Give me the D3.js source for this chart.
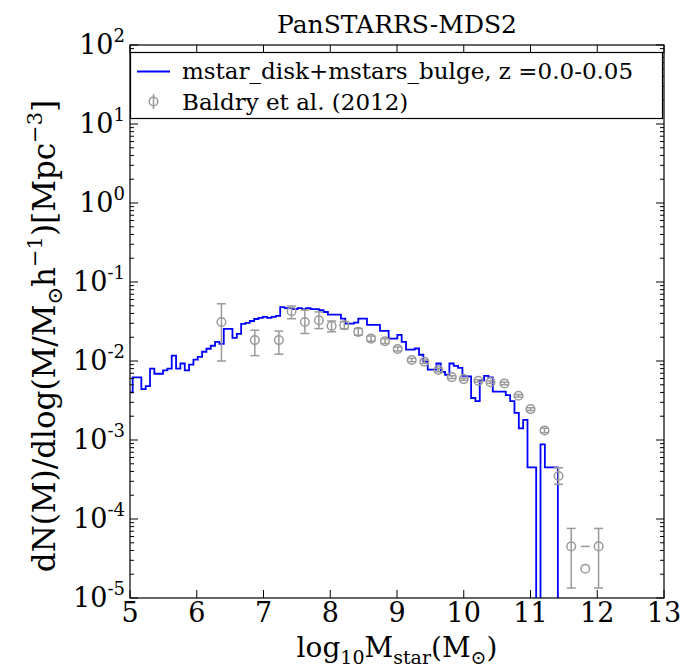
<!DOCTYPE html>
<html>
<head>
<meta charset="utf-8">
<script src="https://cdn.jsdelivr.net/npm/d3@7"></script>
<style>
  body { margin: 0; background: #ffffff; }
  svg text { font-family: "DejaVu Serif", serif; fill: #000; }
</style>
</head>
<body>
<svg id="chart" width="681" height="669"></svg>
<script>
// Histogram of the model stellar mass function: 100 bins of 0.065 dex starting at 4.91
const binStart = 4.91;
const binWidth = 0.065;
const modelPhi = [
  0.0040, 0.0040, 0.0062, 0.0062, 0.0044, 0.0048, 0.0080, 0.0069, 0.0069, 0.0076,
  0.0080, 0.0117, 0.0080, 0.0093, 0.0076, 0.0090, 0.0104, 0.0113, 0.0131, 0.0143,
  0.0156, 0.0175, 0.0165, 0.0255, 0.0255, 0.0196, 0.0220, 0.0295, 0.0303, 0.0321,
  0.0340, 0.0351, 0.0361, 0.0351, 0.0361, 0.0372, 0.0482, 0.0468, 0.0468, 0.0454,
  0.0468, 0.0454, 0.0468, 0.0454, 0.0454, 0.0439, 0.0417, 0.0386, 0.0386, 0.0386,
  0.0344, 0.0297, 0.0297, 0.0306, 0.0344, 0.0344, 0.0287, 0.0287, 0.0287, 0.0241,
  0.0241, 0.0192, 0.0192, 0.0214, 0.0175, 0.0139, 0.0139, 0.0144, 0.0120, 0.0098,
  0.0078, 0.0078, 0.0093, 0.0073, 0.0067, 0.0093, 0.0087, 0.0082, 0.0065, 0.0064,
  0.0034, 0.0031, 0.0057, 0.0065, 0.0062, 0.0041, 0.0041, 0.0041, 0.0037, 0.0031,
  0.0022, 0.0014, 0.0018, 0.00045, 0.00045, 0, 0.00088, 0.00045, 0.00045, 0.00045
];

// Baldry et al. (2012) GAMA stellar mass function
const obsMass = [6.37, 6.87, 7.23, 7.42, 7.62, 7.83, 8.02, 8.21, 8.42, 8.61, 8.82, 9.01, 9.22, 9.41,
                 9.62, 9.82, 10.0, 10.22, 10.4, 10.61, 10.82, 11.0, 11.21, 11.42, 11.61, 11.82, 12.02];
const obsPhi = [0.0312, 0.0184, 0.0184, 0.0426, 0.0312, 0.0328, 0.0278, 0.0284, 0.0234, 0.0192, 0.0178,
                0.0142, 0.0103, 0.0098, 0.0077, 0.00625, 0.0059, 0.0056, 0.0054, 0.0052, 0.00363,
                0.00246, 0.00132, 0.00035, 4.5e-5, 2.35e-5, 4.5e-5];
const obsLow = [0.0100, 0.0117, 0.0122, 0.0343, 0.0223, 0.0257, 0.0234, 0.0255, 0.0212, 0.0178, 0.0166,
                0.0134, 0.0098, 0.0093, 0.0073, 0.0060, 0.0057, 0.0054, 0.0052, 0.0050, 0.00350,
                0.00236, 0.00124, 0.000275, 1.34e-5, null, 1.34e-5];
const obsHigh = [0.0530, 0.0245, 0.0239, 0.0497, 0.0442, 0.0418, 0.0321, 0.0316, 0.0258, 0.0207, 0.0191,
                 0.0150, 0.0108, 0.0103, 0.0081, 0.0065, 0.0061, 0.0058, 0.0056, 0.0054, 0.00376,
                 0.00256, 0.00141, 0.000445, 7.6e-5, 4.5e-5, 7.6e-5];

const xTicks = [5, 6, 7, 8, 9, 10, 11, 12, 13];
const yTickExps = [-5, -4, -3, -2, -1, 0, 1, 2];

const titleText = "PanSTARRS-MDS2";
const modelLabel = "mstar_disk+mstars_bulge, z =0.0-0.05";
const obsLabel = "Baldry et al. (2012)";

const BLUE = "#0000ff";
const GREY = "#9a9a9a";

const plot = { left: 130, right: 664, top: 45, bottom: 598 };

const svg = d3.select("#chart");
const x = d3.scaleLinear().domain([5, 13]).range([plot.left, plot.right]);
const y = d3.scaleLog().domain([1e-5, 1e2]).range([plot.bottom, plot.top]);

svg.append("defs").append("clipPath").attr("id", "plotClip")
  .append("rect")
  .attr("x", plot.left).attr("y", plot.top)
  .attr("width", plot.right - plot.left).attr("height", plot.bottom - plot.top);

const g = svg.append("g").attr("clip-path", "url(#plotClip)");

// Step outline of the histogram; empty bins drop below the axis
const floorVal = 1e-9;
const stepPts = [];
stepPts.push([binStart, floorVal]);
modelPhi.forEach((v, i) => stepPts.push([binStart + i * binWidth, v > 0 ? v : floorVal]));
const binEnd = binStart + modelPhi.length * binWidth;
stepPts.push([binEnd, modelPhi[modelPhi.length - 1]]);
stepPts.push([binEnd, floorVal]);

g.append("path")
  .datum(stepPts)
  .attr("fill", "none")
  .attr("stroke", BLUE)
  .attr("stroke-width", 1.8)
  .attr("d", d3.line().x(d => x(d[0])).y(d => y(d[1])).curve(d3.curveStepAfter));

// Observational points with error bars
const capHalf = 4.5;
const obs = obsMass.map((m, i) => ({ m, phi: obsPhi[i], lo: obsLow[i], hi: obsHigh[i] }));
const og = g.append("g").attr("stroke", GREY).attr("stroke-width", 1.5).attr("fill", "none");
obs.forEach(d => {
  const cx = x(d.m);
  if (d.lo !== null) {
    og.append("line").attr("x1", cx).attr("x2", cx).attr("y1", y(d.lo)).attr("y2", y(d.hi));
    og.append("line").attr("x1", cx - capHalf).attr("x2", cx + capHalf).attr("y1", y(d.lo)).attr("y2", y(d.lo));
  }
  og.append("line").attr("x1", cx - capHalf).attr("x2", cx + capHalf).attr("y1", y(d.hi)).attr("y2", y(d.hi));
  og.append("circle").attr("cx", cx).attr("cy", y(d.phi)).attr("r", 4.3);
});

// Frame
svg.append("rect")
  .attr("x", plot.left).attr("y", plot.top)
  .attr("width", plot.right - plot.left).attr("height", plot.bottom - plot.top)
  .attr("fill", "none").attr("stroke", "#000").attr("stroke-width", 1.2);

// Ticks (inward, on all four sides)
const tk = svg.append("g").attr("stroke", "#000").attr("stroke-width", 1);
xTicks.forEach(t => {
  const px = x(t);
  tk.append("line").attr("x1", px).attr("x2", px).attr("y1", plot.bottom).attr("y2", plot.bottom - 8);
  tk.append("line").attr("x1", px).attr("x2", px).attr("y1", plot.top).attr("y2", plot.top + 8);
});
yTickExps.forEach(e => {
  const py = y(Math.pow(10, e));
  tk.append("line").attr("x1", plot.left).attr("x2", plot.left + 8).attr("y1", py).attr("y2", py);
  tk.append("line").attr("x1", plot.right).attr("x2", plot.right - 8).attr("y1", py).attr("y2", py);
  if (e < 2) {
    for (let k = 2; k <= 9; k++) {
      const pm = y(k * Math.pow(10, e));
      tk.append("line").attr("x1", plot.left).attr("x2", plot.left + 4).attr("y1", pm).attr("y2", pm);
      tk.append("line").attr("x1", plot.right).attr("x2", plot.right - 4).attr("y1", pm).attr("y2", pm);
    }
  }
});

// Tick labels
svg.append("g").selectAll("text").data(xTicks).join("text")
  .attr("x", d => x(d)).attr("y", plot.bottom + 24)
  .attr("text-anchor", "middle").attr("font-size", 27)
  .text(d => d);

const yl = svg.append("g");
yTickExps.forEach(e => {
  const t = yl.append("text")
    .attr("x", 125).attr("y", y(Math.pow(10, e)) + 9)
    .attr("text-anchor", "end").attr("font-size", 27);
  t.append("tspan").text("10");
  t.append("tspan").attr("dy", -12).attr("font-size", 18).text(String(e));
});

// Title
svg.append("text").attr("x", (plot.left + plot.right) / 2).attr("y", 33)
  .attr("text-anchor", "middle").attr("font-size", 25).text(titleText);

// Axis labels
const xl = svg.append("text").attr("x", (plot.left + plot.right) / 2).attr("y", 657)
  .attr("text-anchor", "middle").attr("font-size", 28);
xl.append("tspan").text("log");
xl.append("tspan").attr("dy", 7).attr("font-size", 19).text("10");
xl.append("tspan").attr("dy", -7).text("M");
xl.append("tspan").attr("dy", 7).attr("font-size", 19).text("star");
xl.append("tspan").attr("dy", -7).text("(M");
xl.append("tspan").attr("dy", 7).attr("font-size", 19).text("⊙");
xl.append("tspan").attr("dy", -7).text(")");

const ylab = svg.append("text")
  .attr("transform", `translate(55, 336) rotate(-90)`)
  .attr("text-anchor", "middle").attr("font-size", 31);
ylab.append("tspan").text("dN(M)/dlog(M/M");
ylab.append("tspan").attr("dy", 7).attr("font-size", 21).text("⊙");
ylab.append("tspan").attr("dy", -7).text("h");
ylab.append("tspan").attr("dy", -13).attr("font-size", 21).text("−1");
ylab.append("tspan").attr("dy", 13).text(")[Mpc");
ylab.append("tspan").attr("dy", -13).attr("font-size", 21).text("−3");
ylab.append("tspan").attr("dy", 13).text("]");

// Legend
const lg = svg.append("g");
lg.append("rect").attr("x", plot.left + 0.5).attr("y", 52.5)
  .attr("width", 532).attr("height", 66)
  .attr("fill", "#fff").attr("stroke", "#000").attr("stroke-width", 1.2);
lg.append("line").attr("x1", 137).attr("x2", 170).attr("y1", 71.5).attr("y2", 71.5)
  .attr("stroke", BLUE).attr("stroke-width", 1.8);
lg.append("text").attr("x", 182).attr("y", 79).attr("font-size", 23).text(modelLabel);
const sym = lg.append("g").attr("stroke", GREY).attr("stroke-width", 1.5).attr("fill", "none");
sym.append("line").attr("x1", 153.5).attr("x2", 153.5).attr("y1", 94).attr("y2", 109);
sym.append("circle").attr("cx", 153.5).attr("cy", 101.5).attr("r", 4.3);
lg.append("text").attr("x", 182).attr("y", 110).attr("font-size", 23).text(obsLabel);
</script>
</body>
</html>
